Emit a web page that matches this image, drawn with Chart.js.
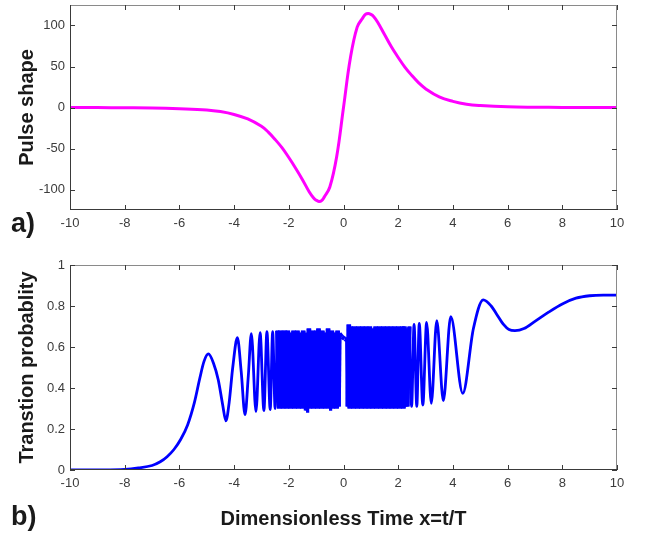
<!DOCTYPE html>
<html>
<head>
<meta charset="utf-8">
<script src="https://cdn.jsdelivr.net/npm/chart.js@4"></script>
<style>
  body { margin: 0; background: #fff; }
  #wrap { position: relative; width: 650px; height: 533px; }
  canvas { position: absolute; left: 0; }
  #pulse { top: 0; }
  #prob { top: 240px; }
</style>
</head>
<body>
<div id="wrap">
  <canvas id="pulse" width="650" height="240" style="width:650px;height:240px"></canvas>
  <canvas id="prob" width="650" height="293" style="width:650px;height:293px"></canvas>
</div>
<script>
// tick labels
var xTicks = [-10, -8, -6, -4, -2, 0, 2, 4, 6, 8, 10];
var pulseTicks = [-100, -50, 0, 50, 100];
var probTicks = [0, 0.2, 0.4, 0.6, 0.8, 1];

// a) pulse shape
var pulseX = [-10, -9, -8, -7, -6, -5, -4.5, -4, -3.5, -3, -2.75, -2.5, -2.25, -2, -1.75, -1.5, -1.25, -1.1, -1, -0.9,
  -0.8, -0.7, -0.5, -0.25, 0, 0.25, 0.5, 0.7, 0.8, 0.9, 1, 1.1, 1.25, 1.5, 1.75, 2, 2.25, 2.5, 2.75, 3, 3.5, 4, 4.5, 5,
  6, 7, 8, 9, 10];
var pulseY = [0, -0.1, -0.3, -0.6, -1.5, -3, -5, -8.5, -14, -23, -30, -39, -49, -61, -74, -88, -103, -110, -113, -114.5,
  -113.5, -109, -97, -60, 0, 60, 98, 109, 113.5, 114.5, 113.5, 111, 104, 89, 74, 61, 49, 39, 30, 23, 13, 7.5, 4, 2.4,
  0.8, 0.3, 0.1, 0, 0];

// b) transition probability, read off in pieces
var rampX = [-10, -9, -8, -7.5, -7, -6.7, -6.45, -6.2, -5.95, -5.7, -5.45, -5.25, -5.1, -4.94, -4.75, -4.58, -4.42, -4.3,
  -4.18, -4.05, -3.88, -3.74, -3.6, -3.48, -3.37, -3.2, -3.05, -2.91, -2.8, -2.68, -2.59, -2.5, -2.42];
var rampY = [0, 0.0005, 0.003, 0.01, 0.022, 0.04, 0.065, 0.1, 0.15, 0.22, 0.33, 0.45, 0.53, 0.566, 0.52, 0.44, 0.32, 0.24,
  0.33, 0.5, 0.645, 0.48, 0.27, 0.46, 0.665, 0.285, 0.67, 0.29, 0.675, 0.295, 0.675, 0.3, 0.68];

var denseLeftX = [-2.35, -2.315, -2.28, -2.245, -2.21, -2.175, -2.14, -2.105, -2.07, -2.035, -2.0, -1.965, -1.93, -1.895,
  -1.86, -1.825, -1.79, -1.755, -1.72, -1.685, -1.65, -1.615, -1.58, -1.545, -1.51, -1.475, -1.44, -1.405, -1.37, -1.335,
  -1.3, -1.265, -1.23, -1.195, -1.16, -1.125, -1.09, -1.055, -1.02, -0.985, -0.95, -0.915, -0.88, -0.845, -0.81, -0.775,
  -0.74, -0.705, -0.67, -0.635, -0.6, -0.565, -0.53, -0.495, -0.46, -0.425, -0.39, -0.355, -0.32, -0.285, -0.25, -0.215,
  -0.18];
var denseLeftY = [0.30, 0.68, 0.31, 0.67, 0.30, 0.68, 0.32, 0.66, 0.30, 0.68, 0.31, 0.65, 0.30, 0.67, 0.33, 0.68, 0.30,
  0.66, 0.31, 0.68, 0.30, 0.64, 0.32, 0.67, 0.30, 0.68, 0.31, 0.66, 0.29, 0.67, 0.32, 0.69, 0.30, 0.66, 0.31, 0.68, 0.30,
  0.65, 0.33, 0.68, 0.30, 0.69, 0.31, 0.66, 0.30, 0.68, 0.32, 0.64, 0.30, 0.67, 0.31, 0.69, 0.30, 0.66, 0.32, 0.68, 0.30,
  0.67, 0.31, 0.65, 0.30, 0.68, 0.31];

// near x=0 the pulse crosses zero and the curve sits high for a moment
var gapX = [-0.15, -0.06, 0.04, 0.14];
var gapY = [0.665, 0.65, 0.64, 0.635];

var denseRightX = [0.16, 0.195, 0.23, 0.265, 0.3, 0.335, 0.37, 0.405, 0.44, 0.475, 0.51, 0.545, 0.58, 0.615,
  0.65, 0.685, 0.72, 0.755, 0.79, 0.825, 0.86, 0.895, 0.93, 0.965, 1.0, 1.035, 1.07, 1.105, 1.14, 1.175, 1.21, 1.245, 1.28,
  1.315, 1.35, 1.385, 1.42, 1.455, 1.49, 1.525, 1.56, 1.595, 1.63, 1.665, 1.7, 1.735, 1.77, 1.805, 1.84, 1.875, 1.91, 1.945,
  1.98, 2.015, 2.05, 2.085, 2.12, 2.155, 2.19, 2.225, 2.26, 2.295, 2.33];
var denseRightY = [0.31, 0.71, 0.30, 0.70, 0.33, 0.68, 0.30, 0.70, 0.31, 0.66, 0.30, 0.70, 0.32, 0.69, 0.30,
  0.70, 0.31, 0.67, 0.30, 0.70, 0.33, 0.69, 0.30, 0.70, 0.31, 0.65, 0.30, 0.69, 0.32, 0.70, 0.30, 0.68, 0.31, 0.70, 0.30,
  0.66, 0.32, 0.70, 0.30, 0.69, 0.31, 0.70, 0.30, 0.67, 0.33, 0.70, 0.30, 0.69, 0.31, 0.70, 0.30, 0.68, 0.32, 0.70, 0.30,
  0.69, 0.31, 0.70, 0.30, 0.70, 0.31, 0.69, 0.31];

var tailX = [2.41, 2.49, 2.58, 2.68, 2.77, 2.9, 3.04, 3.21, 3.41, 3.65, 3.92, 4.36, 4.75, 5.11, 5.4, 5.6, 5.85, 6.05, 6.27,
  6.6, 7.0, 7.5, 8.0, 8.5, 9.0, 9.5, 10];
var tailY = [0.70, 0.31, 0.71, 0.31, 0.715, 0.317, 0.72, 0.325, 0.728, 0.338, 0.748, 0.374, 0.69, 0.83, 0.80, 0.76, 0.71,
  0.685, 0.68, 0.69, 0.725, 0.77, 0.81, 0.838, 0.85, 0.853, 0.853];

Chart.defaults.font.family = '"Liberation Sans", Arial, sans-serif';

function pts(xs, ys) {
    return xs.map(function (x, i) { return { x: x, y: ys[i] }; });
}

// slow parts are drawn smooth, the fast middle part point to point
var smoothA = pts(rampX, rampY);
var fastPart = pts(denseLeftX.concat(gapX, denseRightX), denseLeftY.concat(gapY, denseRightY));
var smoothB = pts(tailX, tailY);
fastPart = [smoothA[smoothA.length - 1]].concat(fastPart, [smoothB[0]]);

// matlab style box with inward ticks, plus the panel tag
var frame = {
    id: 'frame',
    afterDatasetsDraw: function (chart, args, opts) {
        var a = chart.chartArea, ctx = chart.ctx;
        var sx = chart.scales.x, sy = chart.scales.y;
        ctx.save();
        ctx.lineWidth = 1;
        ctx.strokeStyle = '#8a8a8a';
        ctx.beginPath();
        ctx.moveTo(a.left, a.top + 0.5); ctx.lineTo(a.right, a.top + 0.5);
        ctx.moveTo(a.right - 0.5, a.top); ctx.lineTo(a.right - 0.5, a.bottom);
        ctx.stroke();
        ctx.strokeStyle = '#3a3a3a';
        ctx.beginPath();
        ctx.moveTo(a.left + 0.5, a.top); ctx.lineTo(a.left + 0.5, a.bottom);
        ctx.moveTo(a.left, a.bottom - 0.5); ctx.lineTo(a.right, a.bottom - 0.5);
        xTicks.forEach(function (v) {
            var p = Math.round(sx.getPixelForValue(v)) + 0.5;
            ctx.moveTo(p, a.bottom); ctx.lineTo(p, a.bottom - 5);
            ctx.moveTo(p, a.top); ctx.lineTo(p, a.top + 5);
        });
        opts.yTicks.forEach(function (v) {
            var p = Math.round(sy.getPixelForValue(v)) + 0.5;
            ctx.moveTo(a.left, p); ctx.lineTo(a.left + 5, p);
            ctx.moveTo(a.right, p); ctx.lineTo(a.right - 5, p);
        });
        ctx.stroke();
        ctx.fillStyle = '#1a1a1a';
        ctx.font = 'bold 27px "Liberation Sans", Arial, sans-serif';
        ctx.textBaseline = 'alphabetic';
        ctx.fillText(opts.tag, 11, opts.tagY);
        ctx.restore();
    }
};

function makeOptions(cfg) {
    return {
        responsive: false,
        animation: false,
        layout: { padding: { top: cfg.top, right: 33, left: 0, bottom: 0 } },
        plugins: {
            legend: { display: false },
            tooltip: { enabled: false },
            frame: { tag: cfg.tag, tagY: cfg.tagY, yTicks: cfg.yTicks }
        },
        scales: {
            x: {
                type: 'linear',
                min: -10,
                max: 10,
                grid: { display: false, drawTicks: false },
                border: { display: false },
                afterBuildTicks: function (scale) {
                    scale.ticks = xTicks.map(function (v) { return { value: v }; });
                },
                afterFit: function (scale) {
                    scale.height = cfg.xHeight;
                    scale.paddingLeft = 0;
                    scale.paddingRight = 0;
                },
                ticks: {
                    autoSkip: false,
                    maxRotation: 0,
                    padding: 6,
                    color: '#3c3c3c',
                    font: { size: 13 },
                    callback: function (value) { return String(value); }
                },
                title: {
                    display: !!cfg.xTitle,
                    text: cfg.xTitle || '',
                    color: '#1a1a1a',
                    font: { size: 20, weight: 'bold' },
                    padding: { top: 0, bottom: 2 }
                }
            },
            y: {
                min: cfg.yMin,
                max: cfg.yMax,
                grid: { display: false, drawTicks: false },
                border: { display: false },
                afterBuildTicks: function (scale) {
                    scale.ticks = cfg.yTicks.map(function (v) { return { value: v }; });
                },
                afterFit: function (scale) {
                    scale.width = 70;
                    scale.paddingTop = 0;
                    scale.paddingBottom = 0;
                },
                ticks: {
                    padding: 5,
                    color: '#3c3c3c',
                    font: { size: 13 },
                    callback: function (value) { return String(value); }
                },
                title: {
                    display: true,
                    text: cfg.yTitle,
                    color: '#1a1a1a',
                    font: { size: 20, weight: 'bold' },
                    padding: { top: 15, bottom: 0 }
                }
            }
        }
    };
}

new Chart(document.getElementById('pulse'), {
    type: 'line',
    data: {
        datasets: [{
            data: pts(pulseX, pulseY),
            borderColor: '#ff00ff',
            borderWidth: 3,
            pointRadius: 0,
            tension: 0.4,
            fill: false
        }]
    },
    options: makeOptions({
        top: 5, xHeight: 30, yMin: -125, yMax: 125, yTicks: pulseTicks,
        yTitle: 'Pulse shape', tag: 'a)', tagY: 232
    }),
    plugins: [frame]
});

var blue = { borderColor: '#0000ff', borderWidth: 2.8, pointRadius: 0, fill: false };

new Chart(document.getElementById('prob'), {
    type: 'line',
    data: {
        datasets: [
            Object.assign({ data: smoothA, cubicInterpolationMode: 'monotone' }, blue),
            // dense part: each up/down stroke drawn on its own, thicker so it reads as a solid block
            Object.assign({}, blue, {
                data: fastPart,
                tension: 0,
                borderWidth: 4.5,
                borderCapStyle: 'butt',
                segment: {
                    borderWidth: function (c) { return c.p0DataIndex % 2 ? 4.5 : 4.51; }
                }
            }),
            Object.assign({ data: smoothB, cubicInterpolationMode: 'monotone' }, blue)
        ]
    },
    options: makeOptions({
        top: 25, xHeight: 63, yMin: 0, yMax: 1, yTicks: probTicks,
        yTitle: 'Transtion probablity', xTitle: 'Dimensionless Time x=t/T', tag: 'b)', tagY: 285
    }),
    plugins: [frame]
});
</script>
</body>
</html>
